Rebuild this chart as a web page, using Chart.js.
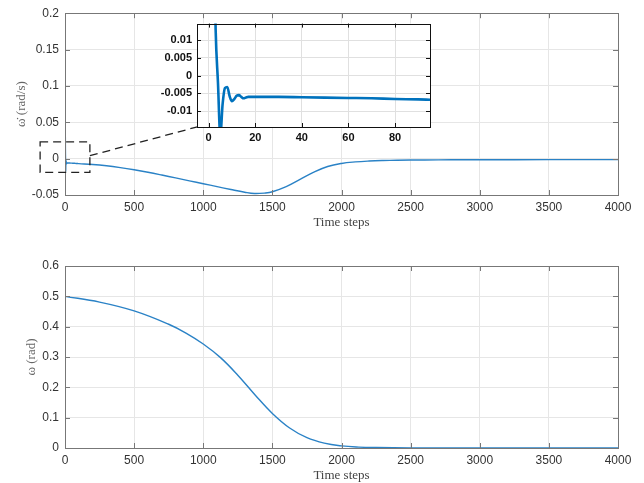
<!DOCTYPE html>
<html>
<head>
<meta charset="utf-8">
<script src="https://cdn.jsdelivr.net/npm/chart.js@4"></script>
<style>
  body { margin: 0; background: #fff; }
  #wrap { position: relative; width: 644px; height: 483px; }
  canvas { position: absolute; }
</style>
</head>
<body>
<div id="wrap">
  <canvas id="rateChart" style="left:0;top:0" width="644" height="240"></canvas>
  <canvas id="angleChart" style="left:0;top:240px" width="644" height="243"></canvas>
  <canvas id="zoomChart" style="left:150px;top:12px" width="290" height="135"></canvas>
</div>
<script>
// first steps of the angular rate (also shown in the zoomed inset)
const earlySteps = [0, 1, 2, 3, 4, 5, 6, 7, 8, 9, 10, 11, 12, 13, 14, 15, 16, 17, 18, 20, 30, 40, 50, 60, 70, 80, 90, 95];
const earlyRate = [0.2, 0.12, 0.05, 0.013, -0.002, -0.017, -0.008, -0.0035, -0.0032, -0.0058, -0.0072, -0.0066, -0.0057,
    -0.0055, -0.006, -0.0064, -0.0062, -0.006, -0.006, -0.006, -0.006, -0.0061, -0.0062, -0.0063, -0.0064, -0.0066, -0.0067, -0.0068];

// rest of the angular rate
const laterSteps = [100, 200, 300, 400, 500, 600, 700, 800, 900, 1000, 1100, 1200, 1300, 1370, 1450, 1500, 1600, 1700,
    1800, 1900, 2000, 2100, 2200, 2300, 2400, 2600, 2800, 3000, 3500, 4000];
const laterRate = [-0.0069, -0.008, -0.0098, -0.0123, -0.0153, -0.0187, -0.0225, -0.0265, -0.0305, -0.0345, -0.0385,
    -0.0425, -0.0462, -0.048, -0.0472, -0.0455, -0.0385, -0.0285, -0.0185, -0.0108, -0.0066, -0.0045, -0.0033, -0.0026,
    -0.0022, -0.0018, -0.0016, -0.0015, -0.0014, -0.0013];

// angle
const angleSteps = [0, 250, 500, 750, 875, 1000, 1125, 1250, 1375, 1500, 1625, 1750, 1875, 2000, 2125, 2250, 2500, 3000, 3500, 4000];
const angleValues = [0.5, 0.481, 0.452, 0.408, 0.379, 0.343, 0.298, 0.24, 0.175, 0.114, 0.066, 0.034, 0.016, 0.007, 0.003,
    0.0015, 0.0004, 0, 0, 0];

// tick labels
const stepTicks = ['0', '500', '1000', '1500', '2000', '2500', '3000', '3500', '4000'];
const rateTicks = ['-0.05', '0', '0.05', '0.1', '0.15', '0.2'];
const angleTicks = ['0', '0.1', '0.2', '0.3', '0.4', '0.5', '0.6'];
const zoomStepTicks = ['0', '20', '40', '60', '80'];
const zoomRateTicks = ['-0.01', '-0.005', '0', '0.005', '0.01'];

const blue = '#0072BD';

function toPoints(xs, ys) {
    return xs.map((x, k) => ({ x: x, y: ys[k] }));
}

// set ticks from the label arrays
function fixedTicks(labels) {
    return (scale) => {
        scale.ticks = labels.map((l) => ({ value: parseFloat(l) }));
    };
}

// matlab style box with inward ticks
const matlabBox = {
    id: 'matlabBox',
    beforeDraw(chart, args, opts) {
        if (!opts.fill) return;
        const a = chart.chartArea;
        chart.ctx.save();
        chart.ctx.fillStyle = opts.fill;
        chart.ctx.fillRect(a.left, a.top, a.right - a.left, a.bottom - a.top);
        chart.ctx.restore();
    },
    afterDraw(chart, args, opts) {
        const { ctx, chartArea: a, scales } = chart;
        const len = opts.len || 5;
        ctx.save();
        ctx.strokeStyle = opts.color || '#777';
        ctx.lineWidth = opts.width || 1;
        ctx.beginPath();
        scales.x.ticks.forEach((t) => {
            const px = Math.round(scales.x.getPixelForValue(t.value)) + 0.5;
            ctx.moveTo(px, a.bottom); ctx.lineTo(px, a.bottom - len);
            ctx.moveTo(px, a.top); ctx.lineTo(px, a.top + len);
        });
        scales.y.ticks.forEach((t) => {
            const py = Math.round(scales.y.getPixelForValue(t.value)) + 0.5;
            ctx.moveTo(a.left, py); ctx.lineTo(a.left + len, py);
            ctx.moveTo(a.right, py); ctx.lineTo(a.right - len, py);
        });
        ctx.stroke();
        ctx.strokeRect(Math.round(a.left) + 0.5, Math.round(a.top) + 0.5,
            Math.round(a.right - a.left), Math.round(a.bottom - a.top));
        ctx.restore();
    }
};

// dashed zoom box and leader line on the top chart
const zoomMark = {
    id: 'zoomMark',
    afterDraw(chart) {
        const { ctx, scales: { x, y } } = chart;
        ctx.save();
        ctx.strokeStyle = '#222';
        ctx.lineWidth = 1.3;
        ctx.setLineDash([8, 5]);
        const x0 = x.getPixelForValue(-180), x1 = x.getPixelForValue(180);
        const y0 = y.getPixelForValue(0.023), y1 = y.getPixelForValue(-0.019);
        ctx.strokeRect(x0, y0, x1 - x0, y1 - y0);
        ctx.beginPath();
        ctx.moveTo(x1, y.getPixelForValue(0.004));
        ctx.lineTo(x.getPixelForValue(958), y.getPixelForValue(0.0438));
        ctx.stroke();
        ctx.restore();
    }
};

const tickFont = { family: 'Liberation Sans, Helvetica, Arial', size: 12 };
const titleFont = { family: 'Liberation Serif, Times New Roman, serif', size: 13 };
const gridColor = '#e6e6e6';

function mainScales(yMin, yMax, yLabels, yTitle, yTitlePad) {
    return {
        x: {
            type: 'linear', min: 0, max: 4000,
            afterBuildTicks: fixedTicks(stepTicks),
            afterFit: (s) => { s.height = 35; },
            ticks: { font: tickFont, color: '#333', padding: 5, maxRotation: 0, callback: (v, i) => stepTicks[i] },
            grid: { color: gridColor, drawTicks: false },
            border: { display: false },
            title: { display: true, text: 'Time steps', font: titleFont, color: '#444', padding: { top: 2, bottom: 0 } }
        },
        y: {
            type: 'linear', min: yMin, max: yMax,
            afterBuildTicks: fixedTicks(yLabels),
            afterFit: (s) => { s.width = 65; },
            ticks: { font: tickFont, color: '#333', padding: 6, callback: (v, i) => yLabels[i] },
            grid: { color: gridColor, drawTicks: false },
            border: { display: false },
            title: { display: true, text: yTitle, font: titleFont, color: '#666', padding: { top: yTitlePad, bottom: 0 } }
        }
    };
}

const lineStyle = {
    borderColor: '#2a82c6', borderWidth: 1.4, pointRadius: 0, fill: false, tension: 0.4
};

new Chart(document.getElementById('rateChart'), {
    type: 'line',
    data: {
        datasets: [Object.assign({ data: toPoints(earlySteps.concat(laterSteps), earlyRate.concat(laterRate)) }, lineStyle)]
    },
    options: {
        responsive: false, animation: false, parsing: false,
        layout: { padding: { top: 13, right: 26, left: 0, bottom: 10 } },
        plugins: { legend: { display: false }, tooltip: { enabled: false }, matlabBox: { color: '#777' } },
        scales: mainScales(-0.05, 0.2, rateTicks, 'ω\u0307 (rad/s)', 14)
    },
    plugins: [matlabBox, zoomMark]
});

new Chart(document.getElementById('angleChart'), {
    type: 'line',
    data: {
        datasets: [Object.assign({ data: toPoints(angleSteps, angleValues) }, lineStyle)]
    },
    options: {
        responsive: false, animation: false, parsing: false,
        layout: { padding: { top: 26, right: 26, left: 0, bottom: 0 } },
        plugins: { legend: { display: false }, tooltip: { enabled: false }, matlabBox: { color: '#777' } },
        scales: mainScales(0, 0.6, angleTicks, 'ω (rad)', 24)
    },
    plugins: [matlabBox]
});

const boldFont = { family: 'Liberation Sans, Helvetica, Arial', size: 11, weight: 'bold' };

new Chart(document.getElementById('zoomChart'), {
    type: 'line',
    data: {
        datasets: [{
            data: toPoints(earlySteps, earlyRate),
            borderColor: blue, borderWidth: 2.6, pointRadius: 0, fill: false, cubicInterpolationMode: 'monotone'
        }]
    },
    options: {
        responsive: false, animation: false, parsing: false,
        layout: { padding: { top: 10, right: 10, left: 0, bottom: 0 } },
        plugins: { legend: { display: false }, tooltip: { enabled: false }, matlabBox: { color: '#111', fill: '#fff', len: 4 } },
        scales: {
            x: {
                type: 'linear', min: -5, max: 95,
                afterBuildTicks: fixedTicks(zoomStepTicks),
                afterFit: (s) => { s.height = 20; },
                ticks: { font: boldFont, color: '#111', padding: 4, maxRotation: 0, callback: (v, i) => zoomStepTicks[i] },
                grid: { color: '#e0e0e0', drawTicks: false },
                border: { display: false }
            },
            y: {
                type: 'linear', min: -0.0145, max: 0.0147,
                afterBuildTicks: fixedTicks(zoomRateTicks),
                afterFit: (s) => { s.width = 47; },
                ticks: { font: boldFont, color: '#111', padding: 5, callback: (v, i) => zoomRateTicks[i] },
                grid: { color: '#e0e0e0', drawTicks: false },
                border: { display: false }
            }
        }
    },
    plugins: [matlabBox]
});
</script>
</body>
</html>
